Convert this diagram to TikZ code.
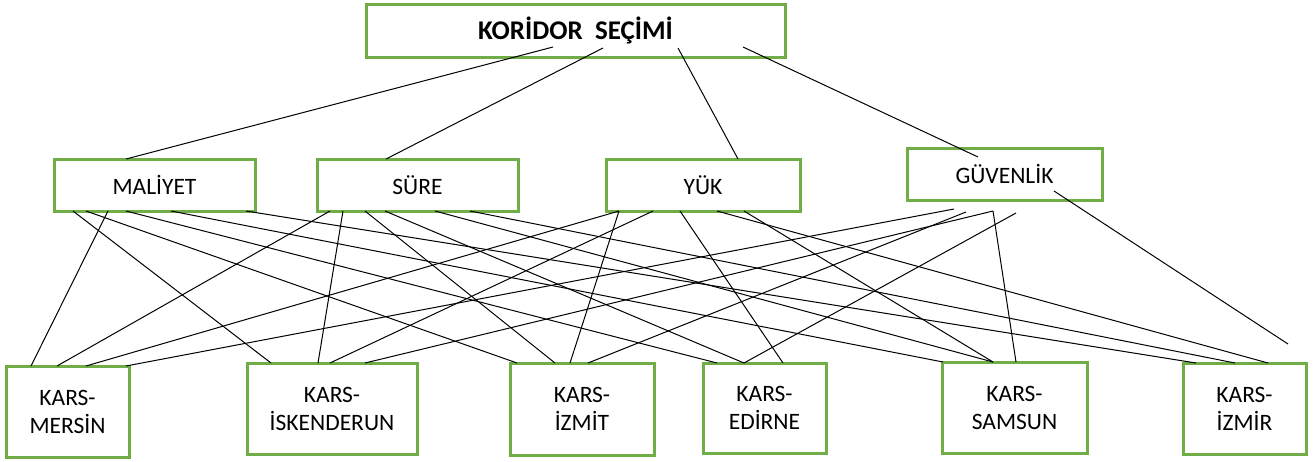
\documentclass[tikz,border=0pt]{standalone}
\usepackage{fontspec}
\setmainfont{Carlito}
\definecolor{boxgreen}{RGB}{112,173,71}
\tikzset{
    box/.style={draw=boxgreen,line width=3pt,inner sep=0pt,outer sep=0pt,align=center,
        font=\fontsize{23.5}{28}\selectfont},
    link/.style={line width=1pt},
}

\begin{document}
\begin{tikzpicture}[x=1pt,y=-1pt]
\useasboundingbox (0,0) rectangle (1313,461);
\node[box,minimum width=419,minimum height=53,font=\fontsize{27}{32}\selectfont\bfseries] (kor) at (575.5,30.5) {KORİDOR\ \ SEÇİMİ};
% criteria
\node[box,minimum width=201,minimum height=52] (mal) at (154.5,185) {MALİYET};
\node[box,minimum width=201,minimum height=52] (sur) at (417.5,185) {SÜRE};
\node[box,minimum width=194,minimum height=52] (yuk) at (703,185) {YÜK};
\node[box,minimum width=195,minimum height=52] (guv) at (1004.5,174) {GÜVENLİK};
% alternatives
\node[box,minimum width=123,minimum height=91] (mer) at (67.5,411.5) {KARS-\\MERSİN};
\node[box,minimum width=170,minimum height=91] (isk) at (332,408.5) {KARS-\\İSKENDERUN};
\node[box,minimum width=144,minimum height=92] (izt) at (582,409) {KARS-\\İZMİT};
\node[box,minimum width=123,minimum height=90] (edi) at (764.5,408) {KARS-\\EDİRNE};
\node[box,minimum width=145,minimum height=91] (sam) at (1014.5,407.5) {KARS-\\SAMSUN};
\node[box,minimum width=123,minimum height=91] (izr) at (1244.5,408.5) {KARS-\\İZMİR};

\draw[link] ([xshift=187pt,yshift=10pt]kor.south west) -- ([xshift=72pt]mal.north west);
\draw[link] ([xshift=237pt,yshift=9pt]kor.south west) -- ([xshift=69pt]sur.north west);
\draw[link] ([xshift=312pt,yshift=9pt]kor.south west) -- ([xshift=132pt]yuk.north west);
\draw[link] ([xshift=377pt,yshift=10pt]kor.south west) -- ([xshift=71pt,yshift=-9pt]guv.north west);

\foreach \s/\t/\e in {54/mer/25,19/isk/24,32/izt/7,72/edi/14,117/sam/1,192/izr/13}
    \draw[link] ([xshift=\s pt]mal.south west) -- ([xshift=\e pt]\t.north west);
\foreach \s/\t/\e in {13/mer/51,26/isk/71,48/izt/45,68/edi/41,118/sam/51,153/izr/52}
    \draw[link] ([xshift=\s pt]sur.south west) -- ([xshift=\e pt]\t.north west);
\foreach \s/\t/\e in {13/mer/80,47/isk/83,13/izt/60,74/edi/80,138/sam/51,111/izr/85}
    \draw[link] ([xshift=\s pt]yuk.south west) -- ([xshift=\e pt]\t.north west);
\foreach \s/\d/\t/\e in {47/9/mer/120,86/11/isk/118,59/12/izt/78,109/13/edi/41,86/11/sam/74}
    \draw[link] ([xshift=\s pt,yshift=-\d pt]guv.south west) -- ([xshift=\e pt]\t.north west);
\draw[link] ([xshift=147pt,yshift=9pt]guv.south west) -- ([xshift=105pt,yshift=19pt]izr.north west);
\end{tikzpicture}
\end{document}
